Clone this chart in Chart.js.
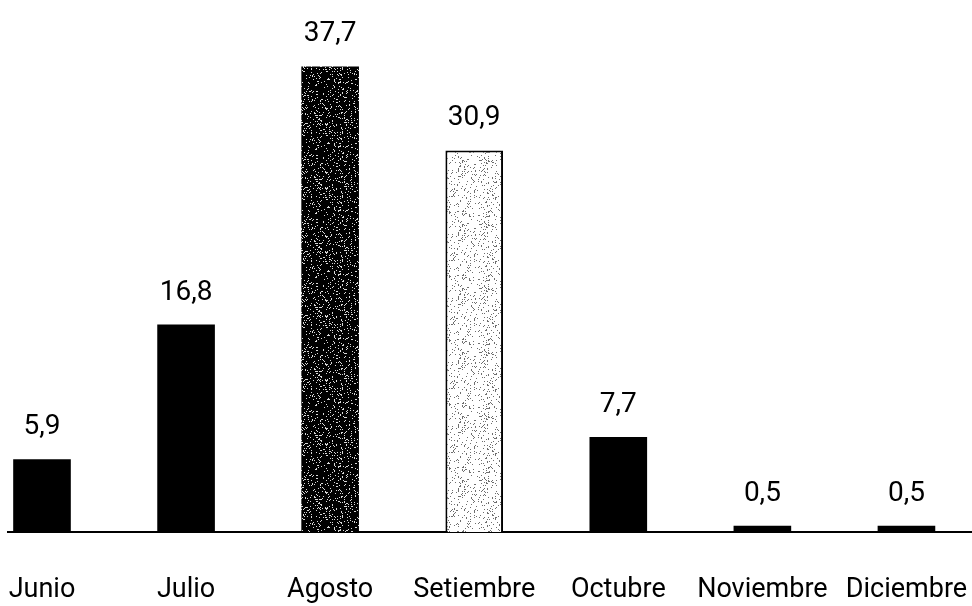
<!DOCTYPE html>
<html lang="es">
<head>
<meta charset="utf-8">
<title>Distribución mensual</title>
<script src="https://cdn.jsdelivr.net/npm/chart.js@4/dist/chart.umd.min.js"></script>
<style>
  html, body { margin: 0; padding: 0; background: #ffffff; }
  #wrap { position: relative; width: 972px; height: 606px; }
</style>
</head>
<body>
<div id="wrap"><canvas id="chart"></canvas></div>
<script>
// Meses y porcentajes
const categories = ['Junio', 'Julio', 'Agosto', 'Setiembre', 'Octubre', 'Noviembre', 'Diciembre'];
const values = [5.9, 16.8, 37.7, 30.9, 7.7, 0.5, 0.5];

const FONT = 'Roboto, "Open Sans", "DejaVu Sans", sans-serif';

// Small repeating speckle texture (deterministic xorshift noise)
function speckle(base, dot, density, seed) {
  const size = 64;
  const c = document.createElement('canvas');
  c.width = c.height = size;
  const g = c.getContext('2d');
  g.fillStyle = base;
  g.fillRect(0, 0, size, size);
  let s = seed | 0;
  const next = () => {
    s ^= s << 13; s ^= s >>> 17; s ^= s << 5;
    return (s >>> 0) / 4294967296;
  };
  g.fillStyle = dot;
  const n = Math.round(size * size * density);
  for (let i = 0; i < n; i++) {
    g.fillRect(Math.floor(next() * size), Math.floor(next() * size), 1, 1);
  }
  return g.createPattern(c, 'repeat');
}

const darkTexture = speckle('#000000', '#d8d8d8', 0.12, 987654321);
const lightTexture = speckle('#ffffff', '#6e6e6e', 0.10, 123456789);

function barFill(ctx) {
  const m = categories[ctx.dataIndex];
  if (m === 'Agosto') return darkTexture;
  if (m === 'Setiembre') return lightTexture;
  return '#000000';
}
function barBorder(ctx) {
  return categories[ctx.dataIndex] === 'Setiembre' ? 2 : 0;
}

// Value labels above each bar, decimal comma
const valueLabels = {
  id: 'valueLabels',
  afterDatasetsDraw(chart) {
    const { ctx } = chart;
    const meta = chart.getDatasetMeta(0);
    ctx.save();
    ctx.font = '28px ' + FONT;
    ctx.fillStyle = '#000000';
    ctx.textAlign = 'center';
    ctx.textBaseline = 'alphabetic';
    meta.data.forEach((bar, i) => {
      const txt = values[i].toFixed(1).replace('.', ',');
      ctx.fillText(txt, bar.x, bar.y - 25);
    });
    ctx.restore();
  }
};

new Chart(document.getElementById('chart'), {
  type: 'bar',
  data: {
    datasets: [{
      data: values.map((v, i) => ({ x: i, y: v })),
      backgroundColor: barFill,
      borderColor: '#000000',
      borderWidth: barBorder,
      borderSkipped: 'bottom',
      categoryPercentage: 1,
      barPercentage: 0.4
    }]
  },
  options: {
    responsive: true,
    maintainAspectRatio: false,
    animation: false,
    layout: { padding: { top: 38, left: 8, right: 0, bottom: 0 } },
    plugins: {
      legend: { display: false },
      tooltip: { enabled: false }
    },
    scales: {
      x: {
        type: 'linear',
        offset: false,
        min: -0.236,
        max: 6.455,
        afterBuildTicks(axis) {
          axis.ticks = categories.map((_, i) => ({ value: i }));
        },
        afterFit(axis) {
          axis.height = 74;
          // the month names fit inside the plot; no extra side room needed
          axis.paddingLeft = 0;
          axis.paddingRight = 0;
        },
        grid: { display: false, drawTicks: false, offset: false },
        border: { display: true, color: '#000000', width: 2 },
        ticks: {
          autoSkip: false,
          maxRotation: 0,
          padding: 42,
          color: '#000000',
          font: { family: FONT, size: 27, lineHeight: 1.2 },
          callback: (v) => categories[v] ?? ''
        }
      },
      y: {
        display: false,
        min: 0,
        max: 40
      }
    }
  },
  plugins: [valueLabels]
});
</script>
</body>
</html>
